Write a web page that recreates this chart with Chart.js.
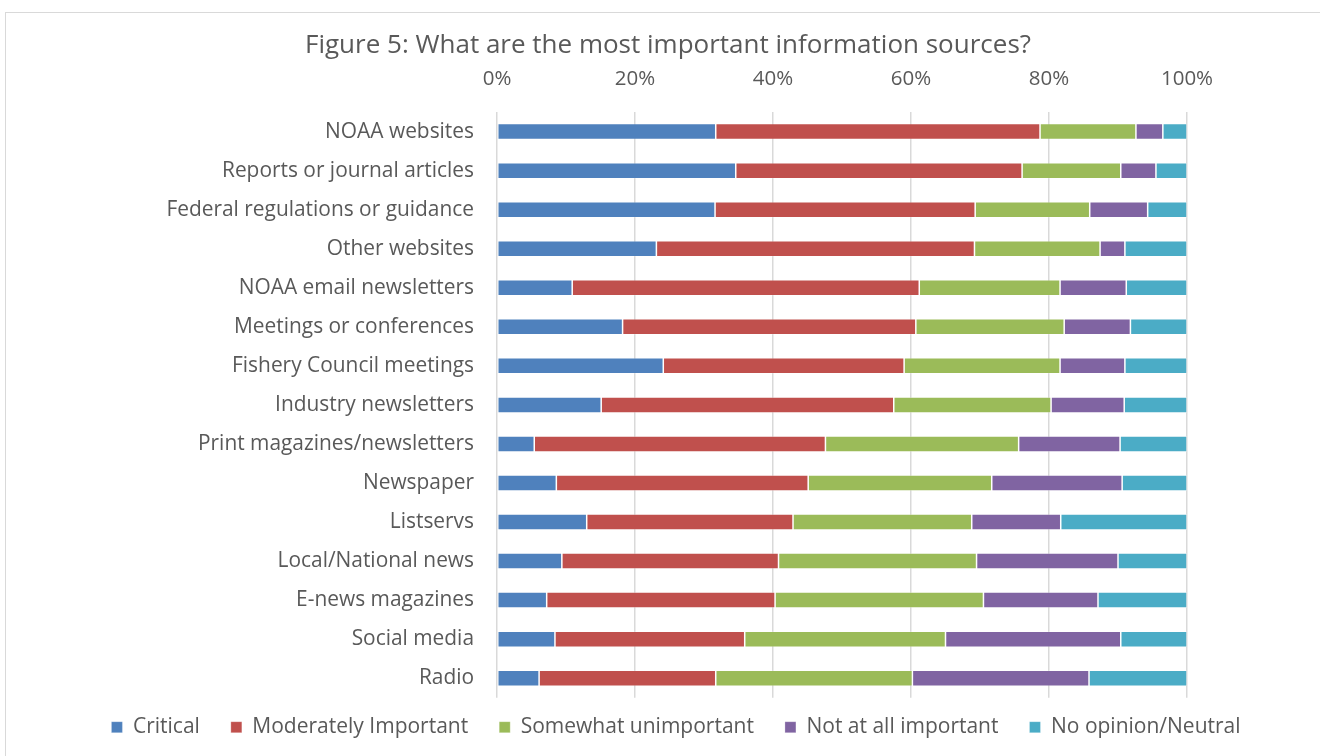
<!DOCTYPE html>
<html>
<head>
<meta charset="utf-8">
<script src="https://cdn.jsdelivr.net/npm/chart.js@4.4.1/dist/chart.umd.min.js"></script>
<style>
  html, body { margin: 0; padding: 0; background: #ffffff; overflow: hidden; }
  #frame { position: absolute; left: 5px; top: 12px; width: 1400px; height: 800px;
           border-left: 1px solid #d9d9d9; border-top: 1px solid #d9d9d9; }
  #wrap { position: absolute; left: 0; top: 0; width: 1320px; height: 756px; }
</style>
</head>
<body>
<div id="frame"></div>
<div id="wrap"><canvas id="chart" width="1320" height="756"></canvas></div>
<script>
// Survey answers: share of respondents (%) for each information source
const sources = [
  'NOAA websites',
  'Reports or journal articles',
  'Federal regulations or guidance',
  'Other websites',
  'NOAA email newsletters',
  'Meetings or conferences',
  'Fishery Council meetings',
  'Industry newsletters',
  'Print magazines/newsletters',
  'Newspaper',
  'Listservs',
  'Local/National news',
  'E-news magazines',
  'Social media',
  'Radio'
];

const critical      = [31.7, 34.6, 31.6, 23.1, 10.9, 18.2, 24.1, 15.1,  5.4,  8.6, 13.0,  9.4,  7.2,  8.4,  6.1];
const moderately    = [47.0, 41.5, 37.7, 46.1, 50.3, 42.5, 34.9, 42.4, 42.2, 36.5, 29.9, 31.4, 33.1, 27.5, 25.6];
const somewhatUnimp = [13.9, 14.3, 16.6, 18.2, 20.4, 21.5, 22.6, 22.8, 28.0, 26.6, 25.9, 28.7, 30.2, 29.1, 28.5];
const notAtAll      = [ 3.9,  5.1,  8.4,  3.6,  9.6,  9.6,  9.4, 10.6, 14.7, 18.9, 12.9, 20.5, 16.6, 25.4, 25.6];
const noOpinion     = [ 3.5,  4.5,  5.7,  9.0,  8.8,  8.2,  9.0,  9.1,  9.7,  9.4, 18.3, 10.0, 12.9,  9.6, 14.2];

const axisTicks = [0, 20, 40, 60, 80, 100];

const seriesNames = ['Critical', 'Moderately Important', 'Somewhat unimportant', 'Not at all important', 'No opinion/Neutral'];
const seriesData  = [critical, moderately, somewhatUnimp, notAtAll, noOpinion];
const seriesColors = ['#4F81BD', '#C0504D', '#9BBB59', '#8064A2', '#4BACC6'];

const textColor = '#595959';
const fontFamily = '"Open Sans", Lato, "Liberation Sans", sans-serif';

const datasets = seriesNames.map((name, i) => ({
  label: name,
  data: seriesData[i],
  backgroundColor: seriesColors[i],
  borderColor: 'rgba(255,255,255,0.35)',
  borderWidth: 0.75,
  borderSkipped: false,
  categoryPercentage: 1.0,
  barPercentage: 0.41
}));

// Lift the legend row closer to the plot and nudge it right, keeping wide item spacing
const legendLift = {
  id: 'legendLift',
  afterLayout(chart) {
    const lg = chart.legend;
    if (!lg) return;
    const dy = -12, dx = 8;
    lg.top += dy;
    lg.bottom += dy;
    lg.left += dx;
    lg.right += dx;
  }
};

new Chart(document.getElementById('chart'), {
  type: 'bar',
  data: { labels: sources, datasets },
  plugins: [legendLift],
  options: {
    indexAxis: 'y',
    responsive: false,
    animation: false,
    devicePixelRatio: 1,
    layout: { padding: { left: 16, right: 0, top: 0, bottom: -3.7 } },
    plugins: {
      title: {
        display: true,
        text: 'Figure 5: What are the most important information sources?',
        color: textColor,
        font: { family: fontFamily, size: 26, weight: 'normal', lineHeight: 1.2 },
        padding: { top: 30, bottom: 0.6 }
      },
      legend: {
        position: 'bottom',
        labels: {
          color: textColor,
          font: { family: fontFamily, size: 21, lineHeight: 1.2 },
          boxWidth: 11,
          boxHeight: 11,
          padding: 31
        }
      },
      tooltip: { enabled: false }
    },
    scales: {
      x: {
        position: 'top',
        stacked: true,
        min: 0,
        max: 100,
        afterBuildTicks: s => { s.ticks = axisTicks.map(v => ({ value: v })); },
        afterFit: s => { s.height = 50.3; },
        grid: { color: '#d9d9d9', lineWidth: 1.5, drawTicks: false },
        border: { display: false },
        ticks: {
          color: textColor,
          font: { family: fontFamily, size: 20.5 },
          padding: 21,
          callback: v => v + '%'
        }
      },
      y: {
        stacked: true,
        afterFit: s => { s.width = 481; },
        grid: { display: false, drawTicks: false, tickLength: 0 },
        border: { display: false },
        ticks: {
          color: textColor,
          font: { family: fontFamily, size: 20.9 },
          padding: 23
        }
      },
      yRight: {
        type: 'category',
        position: 'right',
        afterFit: s => { s.width = 133; },
        grid: { display: false },
        border: { display: false },
        ticks: { display: false }
      }
    }
  }
});
</script>
</body>
</html>
